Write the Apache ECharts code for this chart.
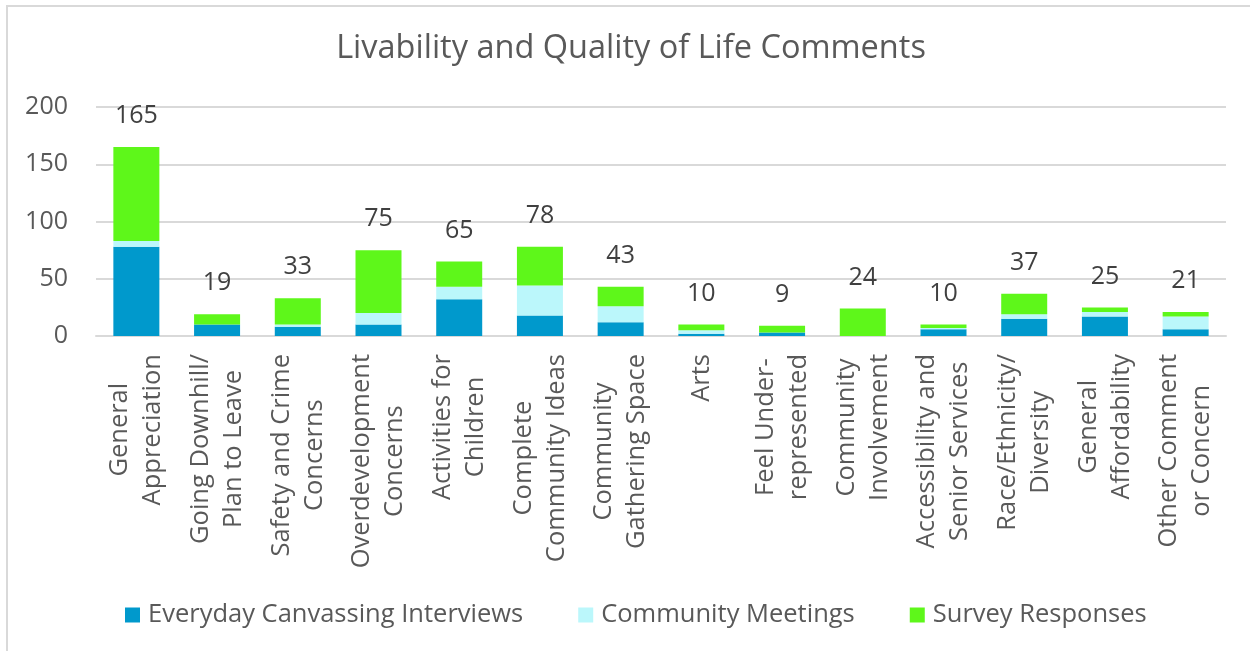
<!DOCTYPE html>
<html>
<head>
<meta charset="utf-8">
<title>Livability and Quality of Life Comments</title>
<script src="https://cdn.jsdelivr.net/npm/echarts@6/dist/echarts.min.js"></script>
<style>
  html, body { margin: 0; padding: 0; background: #fff; }
  #main { width: 1250px; height: 651px; }
</style>
</head>
<body>
<div id="main"></div>
<script>
// categories (two-line labels like in the original chart)
var categories = [
  "General\nAppreciation",
  "Going Downhill/\nPlan to Leave",
  "Safety and Crime\nConcerns",
  "Overdevelopment\nConcerns",
  "Activities for\nChildren",
  "Complete\nCommunity Ideas",
  "Community\nGathering Space",
  "Arts",
  "Feel Under-\nrepresented",
  "Community\nInvolvement",
  "Accessibility and\nSenior Services",
  "Race/Ethnicity/\nDiversity",
  "General\nAffordability",
  "Other Comment\nor Concern"
];
var seriesNames = ["Everyday Canvassing Interviews", "Community Meetings", "Survey Responses"];
var canvassing = [78, 10, 8, 10, 32, 18, 12, 2, 3, 0, 6, 15, 17, 6];
var meetings   = [5, 0, 2, 10, 11, 26, 14, 3, 0, 0, 1, 4, 4, 11];
var survey     = [82, 9, 23, 55, 22, 34, 17, 5, 6, 24, 3, 18, 4, 4];
var totals     = [165, 19, 33, 75, 65, 78, 43, 10, 9, 24, 10, 37, 25, 21];
var yTicks     = [0, 50, 100, 150, 200];

var FONT = "'Open Sans', 'Noto Sans', sans-serif";
var colors = ["#0099cc", "#bbf7fb", "#5ef71a"];

var chart = echarts.init(document.getElementById("main"));

function barSeries(name, data, color) {
  return {
    name: name,
    type: "bar",
    stack: "all",
    barWidth: 46,
    itemStyle: { color: color },
    data: data
  };
}

var option = {
  backgroundColor: "#fff",
  animation: false,
  textStyle: { fontFamily: FONT },
  title: {
    text: "Livability and Quality of Life Comments",
    left: 626,
    textAlign: "center",
    top: 27,
    textStyle: { color: "#595959", fontSize: 32.5, fontWeight: "normal", fontFamily: FONT }
  },
  legend: {
    data: seriesNames,
    left: 120,
    top: 597,
    icon: "rect",
    itemWidth: 15,
    itemHeight: 15,
    itemGap: 55,
    textStyle: { color: "#595959", fontSize: 25.5, fontFamily: FONT, padding: [0, 0, 0, 3] }
  },
  grid: { left: 96, right: 24, top: 107, bottom: 315, containLabel: false, outerBoundsMode: "none" },
  xAxis: {
    type: "category",
    data: categories,
    axisTick: { show: false },
    axisLine: { lineStyle: { color: "#d9d9d9", width: 2 } },
    axisLabel: {
      interval: 0,
      rotate: 90,
      margin: 18,
      formatter: function (v) {
        return v.split("\n").map(function (l) { return "{c|" + l + "}"; }).join("\n");
      },
      rich: {
        c: { align: "center", color: "#595959", fontSize: 25.5, lineHeight: 33, fontFamily: FONT }
      }
    }
  },
  yAxis: {
    type: "value",
    min: yTicks[0],
    max: yTicks[yTicks.length - 1],
    interval: yTicks[1] - yTicks[0],
    axisLine: { show: false },
    axisTick: { show: false },
    splitLine: { lineStyle: { color: "#d9d9d9", width: 2 } },
    axisLabel: { color: "#595959", fontSize: 25, margin: 28, fontFamily: FONT }
  },
  series: [
    barSeries(seriesNames[0], canvassing, colors[0]),
    barSeries(seriesNames[1], meetings, colors[1]),
    barSeries(seriesNames[2], survey, colors[2]),
    {
      // invisible series carrying the total labels
      name: "Total",
      type: "line",
      data: totals,
      symbol: "circle",
      symbolSize: 1,
      showSymbol: true,
      itemStyle: { color: "rgba(0,0,0,0)" },
      lineStyle: { color: "rgba(0,0,0,0)", width: 0 },
      silent: true,
      z: 5,
      label: {
        show: true,
        position: "top",
        distance: 18,
        color: "#404040",
        fontSize: 25,
        fontFamily: FONT
      }
    }
  ],
  graphic: [
    {
      type: "rect",
      silent: true,
      shape: { x: 7, y: 6, width: 1300, height: 700 },
      style: { fill: "none", stroke: "#d9d9d9", lineWidth: 2 }
    }
  ]
};

chart.setOption(option);
</script>
</body>
</html>
